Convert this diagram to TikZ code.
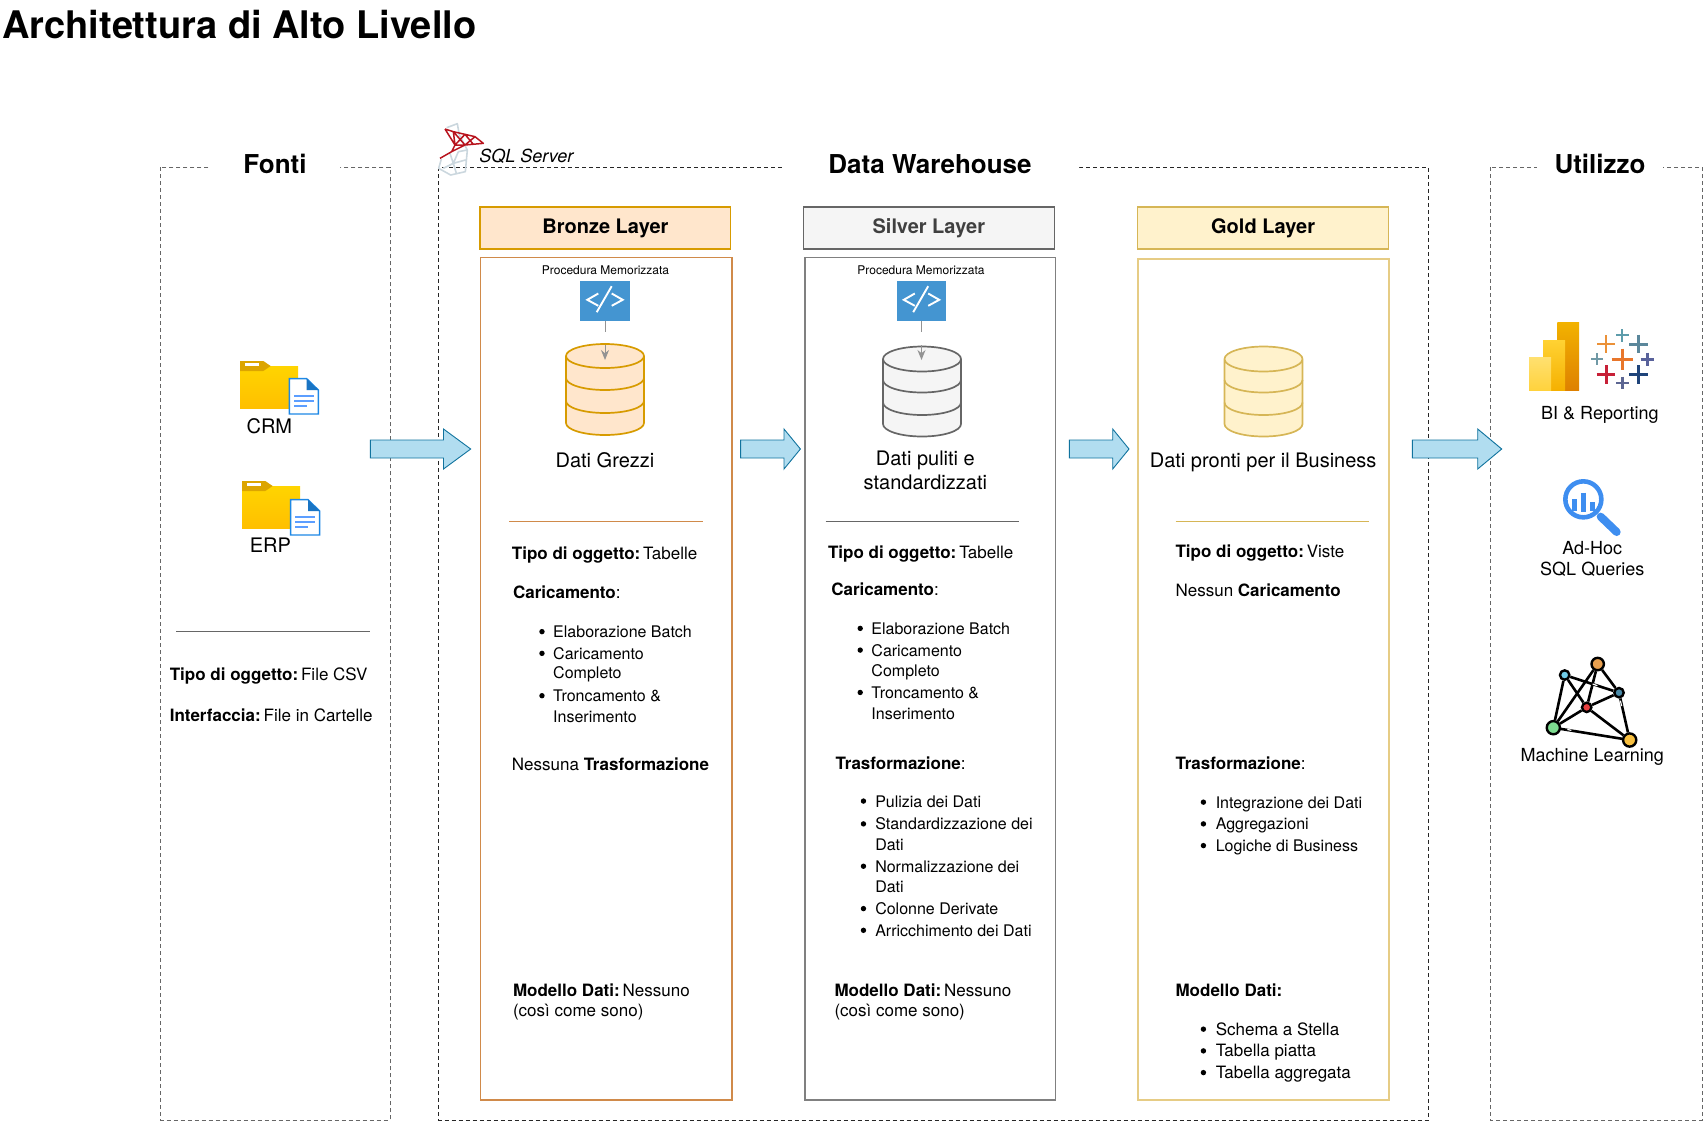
\documentclass[tikz,border=0pt]{standalone}
\usepackage{fontspec}
\setmainfont{TeX Gyre Heros}
\usetikzlibrary{calc,arrows.meta}
\definecolor{bronzeF}{HTML}{FFE6CC}\definecolor{bronzeS}{HTML}{D79B00}\definecolor{bronzeB}{HTML}{D08A4A}
\definecolor{silverF}{HTML}{F5F5F5}\definecolor{silverS}{HTML}{666666}\definecolor{silverB}{HTML}{808080}
\definecolor{goldF}{HTML}{FFF2CC}\definecolor{goldS}{HTML}{D6B656}\definecolor{goldB}{HTML}{E6CC85}
\definecolor{arrF}{HTML}{B1DDF0}\definecolor{arrS}{HTML}{10739E}
\definecolor{iconB}{HTML}{4495D1}\definecolor{zoomB}{HTML}{3E8EF0}
\definecolor{foldA}{HTML}{FFD400}\definecolor{foldB}{HTML}{FFBF00}\definecolor{foldT}{HTML}{DCA500}
\definecolor{docB}{HTML}{1E88E5}\definecolor{docL}{HTML}{5C9EFF}
\definecolor{sqlG}{HTML}{CBD7DE}\definecolor{sqlR}{HTML}{B8141E}
\definecolor{mlO}{HTML}{E8A050}\definecolor{mlB}{HTML}{70CCE8}\definecolor{mlK}{HTML}{4A8AA8}
\definecolor{mlR}{HTML}{E84040}\definecolor{mlG}{HTML}{7DDC90}\definecolor{mlY}{HTML}{F8C040}
\definecolor{pbA}{HTML}{F2B200}\definecolor{pbB}{HTML}{DE8000}\definecolor{pbC}{HTML}{FFD233}\definecolor{pbD}{HTML}{F5B000}\definecolor{pbE}{HTML}{FFE070}\definecolor{pbF}{HTML}{FFD23C}
\newcount\tc
\newcommand\cs{\kern-0.9pt\ }
\tikzset{
 px/.style={x=0.5pt,y=-0.5pt},
 txt/.style={inner sep=0pt,font=\fontsize{8}{9.6}\selectfont,text=black},
 lefttxt/.style={txt,anchor=base west},
 lefttxtb/.style={txt,anchor=base west,font=\fontsize{8.5}{10}\selectfont},
 ctrtxt/.style={txt,anchor=base},
 bigtxt/.style={txt,anchor=base,font=\fontsize{10}{12}\selectfont},
 sectionbox/.style={draw=silverS,dash pattern=on 2pt off 1.5pt,line width=0.4pt},
 sectiontitle/.style={fill=white,font=\bfseries\fontsize{13}{15}\selectfont,inner sep=0pt,minimum height=20pt,anchor=center},
 layerhead/.style={draw=#1,line width=0.6pt,inner sep=0pt,outer sep=0pt,anchor=north west,minimum height=21pt,minimum width=125.4pt,font=\bfseries\fontsize{10}{12}\selectfont},
 layerbox/.style={draw=#1,line width=0.6pt},
 rulerline/.style={draw=#1,line width=0.4pt},
 codeicon/.style={fill=iconB,minimum width=24.7pt,minimum height=20pt,inner sep=0pt},
 bluearrow/.style={fill=arrF,draw=arrS,line width=0.45pt,line join=miter},
 grayline/.style={draw=gray!85,line width=0.5pt},
 mlnode/.style={circle,draw=black,line width=1.2pt,inner sep=0pt,minimum size=#1},
 mledge/.style={draw=black,line width=1.3pt},
}
% text helpers: x,y are read in the 1568-wide scale of the reference overview
\newcommand\lt[3]{\global\advance\tc by 1 \node[lefttxt] (t\the\tc) at ({1.0861*#1},{1.0861*#2+6.6}) {#3};}
\newcommand\lb[3]{\global\advance\tc by 1 \node[lefttxtb] (t\the\tc) at ({1.0861*#1},{1.0861*#2+6.6}) {#3};}
\newcommand\ct[3]{\global\advance\tc by 1 \node[ctrtxt] (t\the\tc) at ({1.0861*#1},{1.0861*#2+6.6}) {#3};}
\newcommand\bg[3]{\global\advance\tc by 1 \node[bigtxt] (t\the\tc) at ({1.0861*#1},{1.0861*#2+8}) {#3};}
\newcommand\bu[2]{\fill ({1.0861*#1},{1.0861*#2+0.6}) circle (2.7);}
% cylinder: cx, top centre y, rx, ry, arc1 y, arc2 y, bottom y, fill, stroke
\newcommand\dbcyl[9]{%
 \path[fill=#8,draw=#9,line width=0.85pt,line join=round]
   (#1-#3,#2) -- (#1-#3,#7) arc[start angle=180,end angle=0,x radius=#3,y radius=#4] -- (#1+#3,#2) arc[start angle=0,end angle=-180,x radius=#3,y radius=#4] arc[start angle=180,end angle=0,x radius=#3,y radius=#4];
 \draw[#9,line width=0.85pt] (#1-#3,#5) arc[start angle=180,end angle=0,x radius=#3,y radius=#4];
 \draw[#9,line width=0.85pt] (#1-#3,#6) arc[start angle=180,end angle=0,x radius=#3,y radius=#4];
}
\newcommand\codeglyph[1]{%
 \draw[white,line width=0.95pt,line join=miter] ($(#1)+(-6.7,-7)$) -- ($(#1)+(-17.7,-0.7)$) -- ($(#1)+(-6.7,5.3)$);
 \draw[white,line width=0.95pt,line join=miter] ($(#1)+(6.7,-7)$) -- ($(#1)+(17.7,-0.7)$) -- ($(#1)+(6.7,5.3)$);
 \draw[white,line width=0.95pt] ($(#1)+(6.7,-14.3)$) -- ($(#1)+(-8.3,11.7)$);
}
% block arrow: x0, xbase, xtip
\newcommand\blockarrow[3]{%
 \draw[bluearrow] (#1,440) -- (#2,440) -- (#2,429) -- (#3,449) -- (#2,469) -- (#2,458) -- (#1,458) -- cycle;
}
% folder with doc: zoom coordinates (third px), folder offset, doc offset
\newcommand\folderdoc[4]{%
 \begin{scope}[shift={(150+#1/3,340+#2/3)},x=0.16667pt,y=-0.16667pt]
  \path[top color=foldA,bottom color=foldB] (270,78) rectangle (444,204);
  \path[fill=foldT] (270,63) -- (340,63) -- (362,78) -- (340,93) -- (270,93) -- cycle;
  \path[fill=white] (286,70) rectangle (326,78);
 \end{scope}
 \begin{scope}[shift={(150+#3/3,340+#4/3)},x=0.16667pt,y=-0.16667pt]
  \path[fill=white,draw=docB,line width=0.7pt] (418,116) -- (470,116) -- (505,150) -- (505,222) -- (418,222) -- cycle;
  \path[fill=docB!85!black] (470,116) -- (505,150) -- (470,150) -- cycle;
  \draw[docL,line width=0.8pt] (432,168) -- (492,168) (432,183) -- (492,183) (432,198) -- (470,198);
 \end{scope}
}
\newcommand\tabplus[5]{\definecolor{tpc}{RGB}{#4}\draw[tpc,line width=#5pt] (#1-#3,#2) -- (#1+#3,#2) (#1,#2-#3) -- (#1,#2+#3);}
\begin{document}
\begin{tikzpicture}[px]
\useasboundingbox (0,0) rectangle (1703,1121);
\node[anchor=base west,inner sep=0pt,font=\bfseries\fontsize{19}{22}\selectfont] (title) at (2,38) {Architettura di Alto Livello};

% section frames
\draw[sectionbox] (160.7,167) rectangle (390,1120);
\draw[sectionbox,draw=black!85] (438.5,167) rectangle (1428,1120);
\draw[sectionbox] (1490,167) rectangle (1702,1120);
\path[fill=white] (212,155) rectangle (340,175) (783,155) rectangle (1079,175);
\node[sectiontitle,minimum width=64pt] (fonti) at (275,164) {Fonti};
\node[sectiontitle,minimum width=146pt] (dw) at (930,164) {Data Warehouse};
\node[sectiontitle,minimum width=63pt] (util) at (1600,164) {Utilizzo};

% SQL logo
\begin{scope}[shift={(430,115)},x=0.16667pt,y=-0.16667pt]
 \draw[draw=sqlG,line width=0.8pt,line join=round]
  (50,38) -- (82,26) -- (88,60) -- (112,105) -- (106,170) -- (62,180) -- (26,160) -- (34,132)
  (60,115) -- (70,145) -- (40,160) (70,145) -- (106,135) (85,110) -- (70,145) (85,110) -- (112,105) (70,145) -- (80,178);
 \draw[sqlR,line width=0.75pt,line join=round]
  (45,42) -- (70,50) -- (105,58) -- (135,65) -- (160,85) -- (105,90) -- (65,110) -- (30,130)
  (45,42) -- (75,90) -- (65,110) (70,50) -- (75,90) -- (105,90) (105,58) -- (75,90) (70,50) -- (105,90) (135,65) -- (105,90) (105,58) -- (130,88);
\end{scope}
\node[anchor=base west,inner sep=0pt,font=\itshape\fontsize{9}{11}\selectfont] (sql) at (479,162) {SQL Server};

% Fonti
\folderdoc{0}{0}{0}{0}
\folderdoc{6}{360}{4}{363}
\ct{248}{393}{\fontsize{10}{12}\selectfont CRM}
\ct{249}{502.5}{\fontsize{10}{12}\selectfont ERP}
\coordinate (fa) at (176,631); \coordinate (fb) at (369.5,631);
\draw[rulerline=silverS] (fa) -- (fb);
\lb{156}{620}{\textbf{Tipo di oggetto:}\cs File CSV}
\lb{156}{658}{\textbf{Interfaccia:}\cs File in Cartelle}

% Bronze
\node[layerhead=bronzeS,fill=bronzeF] (bh) at (480,207) {Bronze Layer};
\draw[layerbox=bronzeB] (480.5,257.5) rectangle (732,1100);
\ct{557.5}{246.5}{\fontsize{6}{7}\selectfont Procedura Memorizzata}
\node[codeicon] (ib) at (605,300.5) {};
\codeglyph{ib.center}
\dbcyl{605}{356}{39}{12}{378}{401}{423}{bronzeF}{bronzeS}
\coordinate (bm1) at (605,332); \coordinate (bm2) at (605,345); \coordinate (bc) at (605,360);
\draw[grayline] (ib.south) -- (bm1);
\draw[grayline,-{Stealth[length=5pt,width=4pt]}] (bm2) -- (bc);
\bg{557}{423}{Dati Grezzi}
\coordinate (ba) at (509,521.5); \coordinate (bb) at (703,521.5);
\draw[rulerline=bronzeB] (ba) -- (bb);
\lb{471}{509}{\textbf{Tipo di oggetto:}\cs Tabelle}
\lb{472}{545}{\textbf{Caricamento}:}
\bu{499}{581}\lt{509}{581}{Elaborazione Batch}
\bu{499}{601}\lt{509}{601}{Caricamento}
\lt{509}{619}{Completo}
\bu{499}{640}\lt{509}{640}{Troncamento \&}
\lt{509}{659}{Inserimento}
\lb{471}{703}{Nessuna \textbf{Trasformazione}}
\lb{472}{911}{\textbf{Modello Dati:}\cs Nessuno}
\lb{472}{930}{(così come sono)}

% Silver
\node[layerhead=silverS,fill=silverF,text=black!75] (sh) at (803.4,207) {Silver Layer};
\draw[layerbox=silverB] (805,257.5) rectangle (1055.6,1100);
\ct{848}{246.5}{\fontsize{6}{7}\selectfont Procedura Memorizzata}
\node[codeicon] (is) at (921.5,300.5) {};
\codeglyph{is.center}
\dbcyl{922}{359}{39}{12.5}{380}{402.5}{424}{silverF}{silverS}
\coordinate (sm1) at (921.5,332); \coordinate (sm2) at (921.5,345); \coordinate (sc) at (921.5,360);
\draw[grayline] (is.south) -- (sm1);
\draw[grayline,-{Stealth[length=5pt,width=4pt]}] (sm2) -- (sc);
\bg{852}{421}{Dati puliti e}
\bg{852}{443}{standardizzati}
\coordinate (sa) at (825.5,521.5); \coordinate (sb) at (1019,521.5);
\draw[rulerline=silverS] (sa) -- (sb);
\lb{762}{508}{\textbf{Tipo di oggetto:}\cs Tabelle}
\lb{765}{542}{\textbf{Caricamento}:}
\bu{792}{578}\lt{802}{578}{Elaborazione Batch}
\bu{792}{598}\lt{802}{598}{Caricamento}
\lt{802}{617}{Completo}
\bu{792}{637}\lt{802}{637}{Troncamento \&}
\lt{802}{656}{Inserimento}
\lb{769}{702}{\textbf{Trasformazione}:}
\bu{795}{737}\lt{805.5}{737}{Pulizia dei Dati}
\bu{795}{758}\lt{805.5}{758}{Standardizzazione dei}
\lt{805.5}{777}{Dati}
\bu{795}{797}\lt{805.5}{797}{Normalizzazione dei}
\lt{805.5}{816}{Dati}
\bu{795}{836}\lt{805.5}{836}{Colonne Derivate}
\bu{795}{856}\lt{805.5}{856}{Arricchimento dei Dati}
\lb{768}{911}{\textbf{Modello Dati:}\cs Nessuno}
\lb{768}{930}{(così come sono)}

% Gold
\node[layerhead=goldS,fill=goldF] (gh) at (1137.7,207) {Gold Layer};
\draw[layerbox=goldB] (1138,259) rectangle (1389,1100);
\dbcyl{1263.5}{359}{39}{12.5}{380}{402.5}{424}{goldF}{goldS}
\bg{1163}{423}{Dati pronti per il Business}
\coordinate (ga) at (1175.5,521.5); \coordinate (gb) at (1369,521.5);
\draw[rulerline=goldS] (ga) -- (gb);
\lb{1082}{507}{\textbf{Tipo di oggetto:}\cs Viste}
\lb{1082}{543}{Nessun \textbf{Caricamento}}
\lb{1082}{702}{\textbf{Trasformazione}:}
\bu{1108}{738}\lt{1119}{738}{Integrazione dei Dati}
\bu{1108}{758}\lt{1119}{758}{Aggregazioni}
\bu{1108}{778}\lt{1119}{778}{Logiche di Business}
\lb{1082}{911}{\textbf{Modello Dati:}}
\bu{1108}{947}\lb{1119}{947}{Schema a Stella}
\bu{1108}{967}\lb{1119}{967}{Tabella piatta}
\bu{1108}{987}\lb{1119}{987}{Tabella aggregata}

% block arrows
\blockarrow{370.4}{443.5}{470.7}
\blockarrow{740.6}{784}{800.4}
\blockarrow{1069.3}{1112.7}{1129}
\blockarrow{1412.3}{1477.7}{1501.7}

% Power BI + Tableau
\begin{scope}[shift={(1400,280)},x=0.16667pt,y=-0.16667pt]
 \path[top color=pbA,bottom color=pbB] (472,128) rectangle (537,332);
 \path[top color=pbC,bottom color=pbD] (429,180) rectangle (495,332);
 \path[top color=pbE,bottom color=pbF] (387,231) rectangle (453,332);
 \tabplus{667}{238}{32}{232,118,43}{1.6}
 \tabplus{618}{192}{27}{235,145,56}{1.4}
 \tabplus{667}{166}{19}{93,156,171}{1}
 \tabplus{716}{192}{28}{91,135,155}{1.5}
 \tabplus{591}{238}{18}{112,153,166}{1}
 \tabplus{742}{238}{20}{89,98,155}{1.2}
 \tabplus{618}{283}{28}{199,32,55}{1.5}
 \tabplus{716}{283}{28}{31,68,122}{1.5}
 \tabplus{667}{309}{19}{92,102,146}{1.3}
\end{scope}
\ct{1473}{380}{\fontsize{9}{11}\selectfont BI \& Reporting}

% Ad-hoc magnifier
\begin{scope}[shift={(1480,460)},x=0.16667pt,y=-0.16667pt]
 \draw[zoomB,line width=2.3pt] (310,118) circle (54);
 \draw[zoomB,line width=2.3pt] (284,117) -- (284,152) (338,126) -- (338,152);
 \draw[zoomB,line width=2.4pt] (311,98) -- (311,157);
 \draw[zoomB,line width=4pt,line cap=round] (362,170) -- (410,216);
\end{scope}
\ct{1466}{504}{\fontsize{9}{11}\selectfont Ad-Hoc}
\ct{1466}{524}{\fontsize{9}{11}\selectfont SQL Queries}

% ML network
\begin{scope}[shift={(1480,460)},x=0.16667pt,y=-0.16667pt]
 \node[mlnode=6.2pt,fill=mlO] (no) at (353,612) {};
 \node[mlnode=4.7pt,fill=mlB] (nb) at (254,645) {};
 \node[mlnode=4.7pt,fill=mlK] (nk) at (417,698) {};
 \node[mlnode=4.7pt,fill=mlR] (nr) at (320,742) {};
 \node[mlnode=6.6pt,fill=mlG] (ng) at (220,803) {};
 \node[mlnode=6.6pt,fill=mlY] (ny) at (449,840) {};
 \draw[mledge] (no) -- (ng);
 \draw[mledge] (no) -- (nr);
 \draw[mledge] (no) -- (nk);
 \draw[mledge] (nb) -- (ng);
 \draw[mledge] (nb) -- (nr);
 \draw[mledge] (nk) -- (nr);
 \draw[mledge] (nr) -- (ng);
 \draw[mledge] (nr) -- (ny);
 \draw[mledge] (nb) -- (nk);
 \draw[mledge] (nk) -- (ny);
 \draw[mledge] (ng) -- (ny);
 \draw[white,line width=0.6pt] (338,672) -- (352,677) (421,722) -- (425,738) (262,808) -- (274,811);
\end{scope}
\ct{1466}{695}{\fontsize{9}{11}\selectfont Machine Learning}
\end{tikzpicture}
\end{document}
